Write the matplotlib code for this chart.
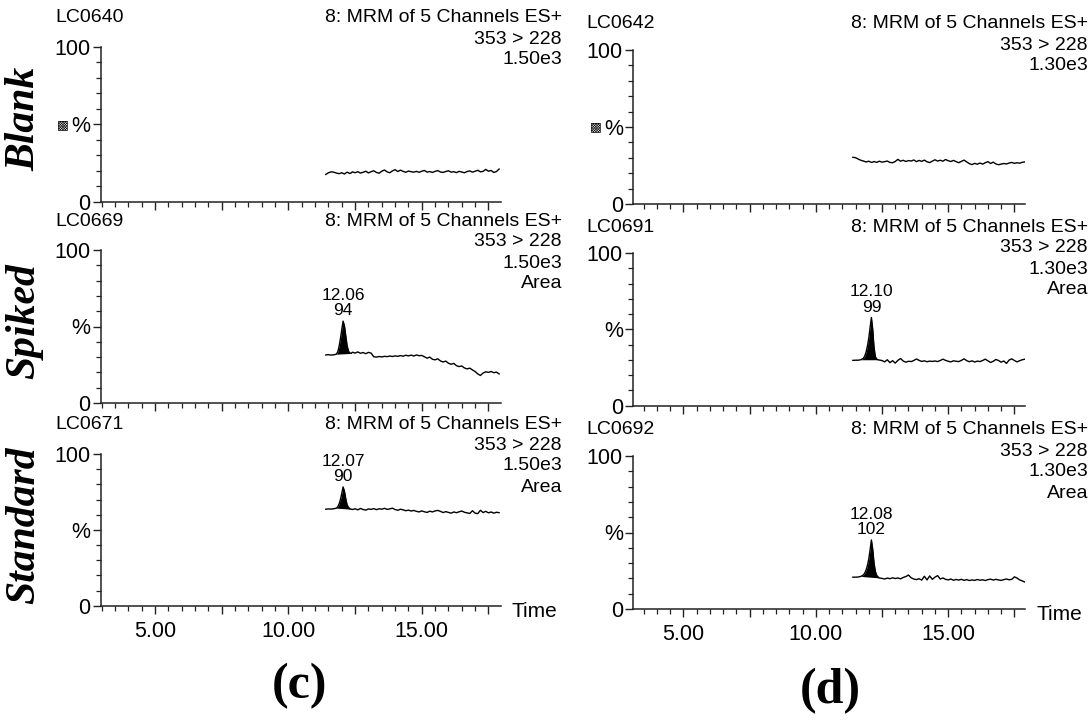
import numpy as np
import matplotlib
matplotlib.use('Agg')
import matplotlib.pyplot as plt
from matplotlib.ticker import MultipleLocator, FixedLocator, FuncFormatter

plt.rcParams['font.family'] = ['Liberation Sans', 'DejaVu Sans']

W, H = 1092, 728

# retention time grid (min), shared by all six traces
TIME = [11.40, 11.50, 11.60, 11.70, 11.80, 11.85, 11.90, 11.95, 12.00, 12.05,
        12.10, 12.15, 12.20, 12.25, 12.30, 12.35, 12.40,
        12.50, 12.60, 12.70, 12.80, 12.90, 13.00, 13.10, 13.20, 13.30, 13.40,
        13.50, 13.60, 13.70, 13.80, 13.90, 14.00, 14.10, 14.20, 14.30, 14.40,
        14.50, 14.60, 14.70, 14.80, 14.90, 15.00, 15.10, 15.20, 15.30, 15.40,
        15.50, 15.60, 15.70, 15.80, 15.90, 16.00, 16.10, 16.20, 16.30, 16.40,
        16.50, 16.60, 16.70, 16.80, 16.90, 17.00, 17.10, 17.20, 17.30, 17.40,
        17.50, 17.60, 17.70, 17.80, 17.90]

# relative intensity (%)
BLANK_C = [17.5, 18.6, 19.2, 19.0, 18.4, 18.2, 18.0, 18.3, 18.6, 18.2, 17.8, 18.4, 19.0, 18.6, 18.1, 18.5, 19.2,
           18.6, 19.3, 18.4, 18.9, 19.6, 18.5, 19.3, 19.9, 18.8, 18.3,
           19.6, 20.4, 19.2, 18.6, 19.8, 20.6, 19.4, 20.3, 19.5, 18.9,
           19.7, 19.3, 19.0, 19.5, 18.9, 19.6, 20.1, 19.0, 19.4, 18.8,
           19.5, 20.0, 19.1, 18.8, 19.4, 19.9, 19.0, 19.3, 18.7, 19.5,
           19.1, 18.6, 19.4, 19.8, 19.0, 19.6, 20.2, 19.2, 19.5, 20.8,
           19.6, 20.1, 18.8, 19.4, 21.0]
BLANK_D = [30.3, 30.1, 29.2, 28.4, 27.9, 27.6, 27.3, 27.5, 27.8, 27.4, 27.0, 27.2, 27.6, 27.3, 27.0, 27.4, 27.8,
           27.2, 27.5, 27.9, 27.0, 26.8, 27.6, 29.0, 27.8, 28.4, 27.6,
           28.2, 27.9, 28.6, 27.5, 28.3, 27.7, 28.5, 27.4, 26.9, 27.8,
           28.7, 27.9, 28.4, 27.8, 28.9, 28.1, 27.6, 28.3, 27.5, 26.8,
           27.7, 28.5, 27.3, 26.2, 25.6, 26.4, 25.8, 26.6, 25.9, 26.8,
           27.5, 26.3, 27.2, 26.0, 25.5, 25.9, 26.3, 26.0, 26.6, 27.0,
           26.4, 26.8, 26.5, 27.1, 27.3]
SPIKED_C = [31.4, 31.6, 31.3, 31.5, 31.9, 33.5, 37.0, 42.0, 48.0, 53.5, 50.5, 44.0, 37.5, 34.0, 32.8, 32.4, 33.2,
            32.6, 33.4, 32.5, 33.0, 32.2, 33.1, 32.6, 30.2, 30.0, 30.4,
            30.1, 30.5, 30.3, 30.7, 30.4, 30.8, 30.5, 31.0, 30.6, 31.2,
            30.8, 31.3, 30.7, 31.4, 30.9, 31.1, 30.2, 29.3, 30.0, 28.6,
            28.2, 28.9, 27.5, 26.8, 27.4, 26.0, 25.3, 25.9, 24.4, 23.8,
            24.2, 22.9, 22.3, 22.8, 21.6, 20.6, 19.0, 18.0, 19.6, 20.4,
            20.0, 20.6, 19.8, 20.2, 19.0]
SPIKED_D = [29.6, 29.7, 29.7, 30.0, 31.0, 32.5, 35.0, 39.0, 44.0, 51.0, 57.7, 50.0, 38.0, 32.0, 30.5, 30.0, 29.8,
            29.5, 28.6, 30.0, 28.1, 29.4, 27.8, 29.6, 30.8, 29.2, 28.4,
            29.0, 28.8, 29.5, 30.5, 29.6, 28.9, 29.3, 28.7, 29.1, 28.9,
            29.2, 28.8, 29.5, 30.4, 29.6, 29.0, 28.6, 29.3, 29.0, 28.8,
            29.6, 30.6, 29.4, 28.7, 29.3, 28.5, 29.1, 28.8, 29.5, 30.4,
            29.3, 28.2, 29.0, 30.2, 29.5, 28.4, 29.2, 27.6, 29.8, 30.6,
            29.5, 28.6, 29.4, 30.0, 30.4]
STD_C = [63.6, 63.8, 63.7, 63.9, 64.3, 65.2, 67.0, 70.0, 74.0, 78.3, 75.5, 70.5, 66.5, 64.8, 64.0, 63.6, 63.4,
         63.9, 63.2, 64.1, 63.4, 63.0, 63.8, 63.5, 64.0, 63.3, 63.9,
         63.6, 64.2, 63.5, 63.8, 64.3, 63.4, 62.9, 63.6, 63.2, 62.6,
         63.0, 62.4, 62.8, 62.2, 61.8, 62.5, 61.9, 61.5, 62.3, 61.8,
         62.5, 62.8, 62.2, 61.4, 62.0, 61.5, 61.0, 61.8, 61.3, 61.9,
         62.4, 61.6, 61.2, 60.8, 62.6, 61.0, 60.7, 62.9, 61.4, 62.2,
         61.2, 61.8, 61.0, 61.6, 61.3]
STD_D = [20.8, 20.8, 20.9, 21.3, 22.3, 23.5, 25.5, 28.5, 32.5, 38.5, 45.1, 39.0, 30.0, 24.5, 22.0, 21.0, 20.3,
         20.0, 19.6, 20.2, 19.8, 20.4, 19.9, 20.3, 19.7, 20.6, 21.2,
         22.2, 20.4, 19.6, 19.2, 19.8, 18.9, 21.4, 19.0, 21.6, 19.4,
         20.8, 21.8, 19.6, 20.3, 19.4, 19.0, 19.6, 18.8, 19.3, 18.9,
         19.4, 18.7, 19.2, 18.6, 19.0, 18.7, 19.3, 18.8, 19.1, 18.6,
         19.2, 19.5, 18.9, 19.4, 19.0, 18.7, 19.2, 19.6, 19.1, 19.4,
         21.0, 20.2, 19.0, 18.3, 17.6]

ROW_NAMES = ['Blank', 'Spiked', 'Standard']
SAMPLE_IDS = [['LC0640', 'LC0642'], ['LC0669', 'LC0691'], ['LC0671', 'LC0692']]
SCALES = ['1.50e3', '1.30e3']
PEAK_RT = [[None, None], ['12.06', '12.10'], ['12.07', '12.08']]
PEAK_AREA = [[None, None], ['94', '99'], ['90', '102']]
PEAK_WIN = [[None, None], [(11.80, 12.35), (11.70, 12.35)], [(11.80, 12.35), (11.70, 12.40)]]
TRACES = [[BLANK_C, BLANK_D], [SPIKED_C, SPIKED_D], [STD_C, STD_D]]

# layout, in pixels of the 1092x728 page
COL_X = [(100.7, 500.7), (633.3, 1025.0)]
COL_XLIM = [(2.96, 17.96), (3.11, 17.90)]
ROW_Y = [[(47, 201.5), (50, 204)], [(250, 403), (253, 405.5)], [(454, 605.7), (456, 609)]]
HEAD_Y = [[18, 24], [221, 227], [424, 430]]
ID_X = [55, 586]
BLOCK_R = [562, 1088]
AXCOL = '#222222'


def fx(px):
    return px / W


def fy(py):
    return 1 - py / H


fig = plt.figure(figsize=(W / 100, H / 100), dpi=100, facecolor='white')

for r in range(3):
    for c in range(2):
        x0, x1 = COL_X[c]
        ytop, ybot = ROW_Y[r][c]
        ax = fig.add_axes([fx(x0), fy(ybot), (x1 - x0) / W, (ybot - ytop) / H])
        t = np.array(TIME)
        y = np.array(TRACES[r][c])
        ax.plot(t, y, color='black', lw=1.0)

        win = PEAK_WIN[r][c]
        if win is not None:
            m = (t >= win[0] - 1e-9) & (t <= win[1] + 1e-9)
            tb = t[m]
            base = np.interp(tb, [tb[0], tb[-1]], [y[m][0], y[m][-1]])
            ax.fill_between(tb, base, y[m], color='black', lw=0)
            k = int(np.argmax(y))
            ax.annotate(PEAK_RT[r][c] + '\n' + PEAK_AREA[r][c], xy=(t[k], y[k]),
                        xytext=(0, 2), textcoords='offset points',
                        ha='center', va='bottom', fontsize=12.5, linespacing=1.05)

        ax.set_xlim(*COL_XLIM[c])
        ax.set_ylim(0, 100)
        for s in ('top', 'right'):
            ax.spines[s].set_visible(False)
        for s in ('left', 'bottom'):
            ax.spines[s].set_color(AXCOL)
            ax.spines[s].set_linewidth(1.1)

        ax.xaxis.set_major_locator(MultipleLocator(2.5))
        ax.xaxis.set_minor_locator(MultipleLocator(0.5))
        if r == 2:
            ax.xaxis.set_major_formatter(FuncFormatter(
                lambda v, p: f'{v:.2f}' if abs(v % 5) < 1e-6 else ''))
            ax.annotate('Time', xy=(1, 0), xycoords='axes fraction',
                        xytext=(8, -4), textcoords='offset points',
                        ha='left', va='center', fontsize=15)
        else:
            ax.set_xticklabels([])
        ax.yaxis.set_major_locator(FixedLocator([0, 50, 100]))
        ax.set_yticklabels(['0', '%', '100'])
        ax.yaxis.set_minor_locator(MultipleLocator(10))
        ax.tick_params(which='major', direction='out', length=6, width=1,
                       color=AXCOL, labelsize=15.5, pad=1.5)
        ax.tick_params(axis='x', which='major', pad=5)
        ax.tick_params(which='minor', direction='out', length=3.5, width=0.9,
                       color=AXCOL)

        # header block
        hy = HEAD_Y[r][c]
        fig.text(fx(ID_X[c]), fy(hy), SAMPLE_IDS[r][c], fontsize=14,
                 ha='left', va='center')
        lines = ['8: MRM of 5 Channels ES+', '353 > 228', SCALES[c]]
        if r > 0:
            lines.append('Area')
        for i, s in enumerate(lines):
            fig.text(fx(BLOCK_R[c]), fy(hy + 21 * i), s, fontsize=14,
                     ha='right', va='center')

        if r == 0:
            fig.text(fx(x0 - 38), fy((ytop + ybot) / 2), '\u25a9', fontsize=9,
                     ha='center', va='center', family=['DejaVu Sans'])

# row names
for r, name in enumerate(ROW_NAMES):
    ytop, ybot = ROW_Y[r][0]
    fig.text(fx(24), fy((ytop + ybot) / 2 - 5), name, rotation=90, fontsize=30,
             family=['Liberation Serif', 'DejaVu Serif'], weight='bold',
             style='italic', ha='center', va='center')

fig.text(fx(300), fy(686), '(c)', fontsize=36, weight='bold',
         family=['Liberation Serif', 'DejaVu Serif'], ha='center', va='center')
fig.text(fx(830), fy(691), '(d)', fontsize=36, weight='bold',
         family=['Liberation Serif', 'DejaVu Serif'], ha='center', va='center')

fig.savefig('out.png', dpi=100, facecolor='white')
